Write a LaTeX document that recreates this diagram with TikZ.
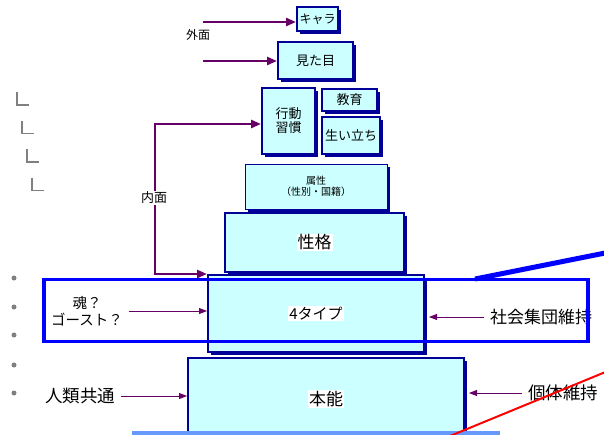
\documentclass[tikz,border=0pt]{standalone}
\usepackage{fontspec}
\setmainfont{Noto Sans CJK JP}
\usepackage{tikz}
\usetikzlibrary{arrows.meta,shadows,calc,positioning}
\definecolor{boxfill}{HTML}{CCFFFF}
\definecolor{boxline}{HTML}{000099}
\definecolor{arrcol}{HTML}{660066}
\definecolor{frameblue}{HTML}{0000FF}
\definecolor{barblue}{HTML}{6699FF}
\newcommand{\jsz}[1]{\fontsize{#1}{#1}\selectfont}
\newcommand{\wbg}[1]{{\setlength{\fboxsep}{1pt}\colorbox{white}{#1}}}

\begin{document}
\begin{tikzpicture}[x=1pt,y=-1pt,
    blk/.style={draw=boxline, line width=2pt, fill=boxfill, inner sep=1pt, align=center,
      drop shadow={shadow xshift=3pt,shadow yshift=-3pt,fill=boxline,opacity=1}},
    thickarr/.style={draw=arrcol, line width=2.8pt, -{Triangle[length=10pt,width=8pt]}},
    thinarr/.style={draw=arrcol, line width=0.9pt, shorten <=5pt, -{Triangle[length=8pt,width=6pt]}},
    side/.style={inner sep=1pt, align=center}]
    \useasboundingbox (0,0) rectangle (604,434);
    \clip (0,0) rectangle (604,434);

    % the stack
    \node[blk, minimum width=41pt, minimum height=24pt, font=\jsz{12}] (chara) at (317.5,19) {キャラ};
    \node[blk, minimum width=75pt, minimum height=37pt, font=\jsz{13}] (mitame) at (315.5,60.5) {見た目};
    \node[blk, minimum width=53pt, minimum height=66pt, font=\fontsize{13}{14}\selectfont] (koudou) at (288.5,121) {行動\\習慣};
    \node[blk, minimum width=55pt, minimum height=22pt, font=\jsz{13}] (kyouiku) at (349.5,100) {教育};
    \node[blk, minimum width=58pt, minimum height=37pt, font=\jsz{13}] (oitachi) at (351,135.5) {生い立ち};
    \node[blk, line width=1pt, minimum width=142pt, minimum height=45pt, font=\fontsize{10}{11}\selectfont] (zokusei) at (316,186.5) {属性\\（性別・国籍）};
    \node[blk, minimum width=179pt, minimum height=59pt, font=\jsz{17}] (seikaku) at (314.5,242.5) {\wbg{性格}};
    \node[blk, minimum width=216pt, minimum height=77pt, font=\jsz{15}] (type4) at (316,313.5) {\wbg{4タイプ}};
    \node[blk, minimum width=276pt, minimum height=82pt, font=\jsz{17}] (honnou) at (326,399) {\wbg{本能}};
    \fill[barblue] (132,431) rectangle (500,440);

    % outside / inside
    \coordinate (gaiA) at (203,22);
    \coordinate (gaiB) at (203,61);
    \draw[thickarr] (gaiA) -- (gaiA -| chara.west);
    \draw[thickarr] (gaiB) -- (gaiB -| mitame.west);
    \node[side, font=\jsz{12}] (gaimen) at (198,35) {外面};
    \coordinate (naiT) at (155,124);
    \draw[draw=arrcol, line width=2.8pt, {Triangle[length=10pt,width=8pt]}-{Triangle[length=10pt,width=8pt]}]
      (type4.north west) -| (naiT) -- (naiT -| koudou.west);
    \node[side, fill=white, font=\jsz{13}] (naimen) at (154,198) {内面};

    % side labels
    \node[side, font=\fontsize{14.5}{17}\selectfont] (tamashii) at (87,311) {魂？\\ゴースト？};
    \node[side, font=\jsz{17}] (shakai) at (541,317) {社会集団維持};
    \node[side, font=\jsz{17.5}] (jinrui) at (80,396) {人類共通};
    \node[side, font=\jsz{17.5}] (kotai) at (563,393) {個体維持};
    \draw[thinarr] (tamashii.east) -- (tamashii.east -| type4.west);
    \draw[thinarr] (shakai.west) -- ($(shakai.west -| type4.east)+(4,0)$);
    \draw[thinarr] (jinrui.east) -- (jinrui.east -| honnou.west);
    \draw[thinarr] (kotai.west) -- ($(kotai.west -| honnou.east)+(4,0)$);

    % frame and strokes
    \draw[frameblue, line width=3.5pt] (44,279.5) rectangle (588,341.5);
    \draw[frameblue, line width=5pt] (475,279) -- (620,250);
    \draw[red, line width=2pt] (450,436) -- (620,366);

    % margin marks
    \foreach \i in {0,...,3}
      \draw[gray, line width=1.2pt] (17+5*\i,92+28.5*\i) |- (29+5*\i,105+28.5*\i);
    \foreach \y in {278,307,335,365,393}
      \fill[gray] (14,\y) circle (2.5);
  \end{tikzpicture}
\end{document}
